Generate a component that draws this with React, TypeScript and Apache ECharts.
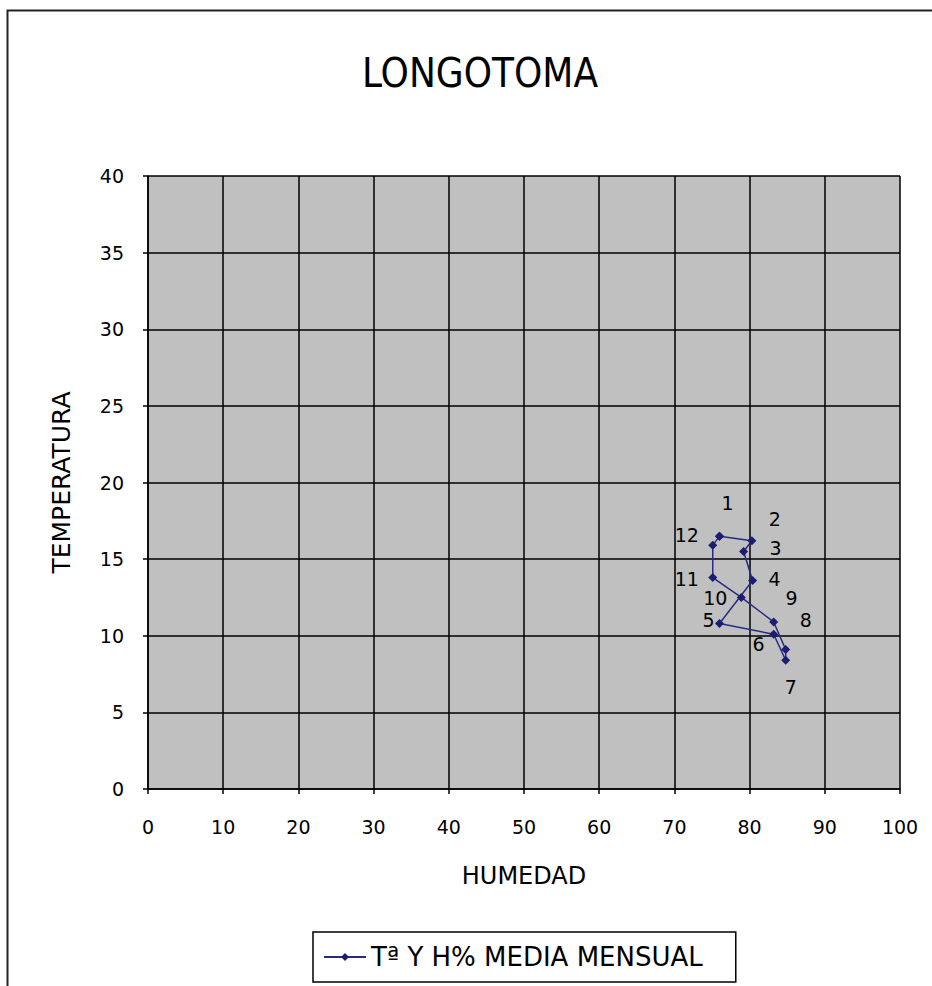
import React, { useEffect, useRef } from "react";
import * as echarts from "echarts";

const chartTitle = "LONGOTOMA";
const seriesName = "Tª Y H% MEDIA MENSUAL";
const xAxisName = "HUMEDAD";
const yAxisName = "TEMPERATURA";
const months = ["1", "2", "3", "4", "5", "6", "7", "8", "9", "10", "11", "12"];
const humidity = [76.0, 80.3, 79.2, 80.4, 76.0, 83.2, 84.8, 84.8, 83.2, 78.9, 75.1, 75.1];
const temperature = [16.5, 16.2, 15.5, 13.6, 10.8, 10.1, 8.4, 9.1, 10.9, 12.5, 13.8, 15.9];

// label placement (pixel offsets from each point), style only
const labelOffsets: [number, number][] = [
  [8, -33], [23, -22], [32, -3], [22, -2], [-11, -3], [-15, 10],
  [5, 27], [20, -30], [18, -24], [-26, 1], [-26, 1], [-26, -10],
];

const FONT = "DejaVu Sans, Verdana, sans-serif";

export default function App() {
  const ref = useRef<HTMLDivElement>(null);
  useEffect(() => {
    if (!ref.current) return;
    const chart = echarts.init(ref.current, undefined, { renderer: "svg" });
    const pts: any[] = months.map((m, i) => ({
      value: [humidity[i], temperature[i]],
      name: m,
      label: {
        show: true,
        formatter: m,
        position: "inside",
        offset: labelOffsets[i],
        color: "#000",
        fontFamily: FONT,
        fontSize: 19,
      },
    }));
    // closing segment back to the first month
    pts.push({ value: [humidity[0], temperature[0]], name: months[0], label: { show: false } });

    chart.setOption({
      animation: false,
      backgroundColor: "#ffffff",
      title: {
        text: chartTitle,
        left: 475,
        top: 48,
        textAlign: "center",
        textStyle: {
          fontFamily: "DejaVu Sans Condensed, DejaVu Sans, sans-serif",
          fontWeight: 200,
          fontSize: 40,
          color: "#000",
        },
      },
      graphic: [
        {
          type: "rect",
          shape: { x: 7.5, y: 10.5, width: 960, height: 1000 },
          style: { fill: "none", stroke: "#222", lineWidth: 2 },
          silent: true,
        },
      ],
      legend: {
        left: 313,
        top: 932,
        padding: [12, 33, 12, 10],
        borderColor: "#000",
        borderWidth: 1.5,
        itemWidth: 42,
        itemHeight: 10,
        textStyle: { fontFamily: FONT, fontSize: 26, color: "#000" },
        data: [seriesName],
      },
      grid: {
        left: 148,
        right: 32,
        top: 176,
        bottom: 197,
        show: true,
        backgroundColor: "#c0c0c0",
        borderWidth: 0,
      },
      xAxis: {
        type: "value",
        min: 0,
        max: 100,
        interval: 10,
        name: xAxisName,
        nameLocation: "middle",
        nameGap: 75,
        nameTextStyle: { fontFamily: FONT, fontSize: 24, color: "#000" },
        axisLine: { show: true, lineStyle: { color: "#000", width: 1.5 } },
        axisTick: { show: true, length: 5, lineStyle: { color: "#000", width: 1.5 } },
        axisLabel: { margin: 28, fontFamily: FONT, fontSize: 19, color: "#000" },
        splitLine: { show: true, lineStyle: { color: "#000", width: 1.5 } },
      },
      yAxis: {
        type: "value",
        min: 0,
        max: 40,
        interval: 5,
        name: yAxisName,
        nameLocation: "middle",
        nameGap: 74,
        nameTextStyle: { fontFamily: FONT, fontSize: 25, color: "#000" },
        axisLine: { show: true, lineStyle: { color: "#000", width: 1.5 } },
        axisTick: { show: true, length: 5, lineStyle: { color: "#000", width: 1.5 } },
        axisLabel: { margin: 24, fontFamily: FONT, fontSize: 19, color: "#000" },
        splitLine: { show: true, lineStyle: { color: "#000", width: 1.5 } },
      },
      series: [
        {
          name: seriesName,
          type: "line",
          data: pts,
          symbol: "diamond",
          symbolSize: 9,
          showAllSymbol: true,
          lineStyle: { color: "#2a2a85", width: 1.5 },
          itemStyle: { color: "#1c1c72" },
        },
      ],
    });
    return () => chart.dispose();
  }, []);
  return (
    <div
      ref={ref}
      style={{ position: "fixed", left: 0, top: 0, width: 932, height: 986 }}
    />
  );
}
